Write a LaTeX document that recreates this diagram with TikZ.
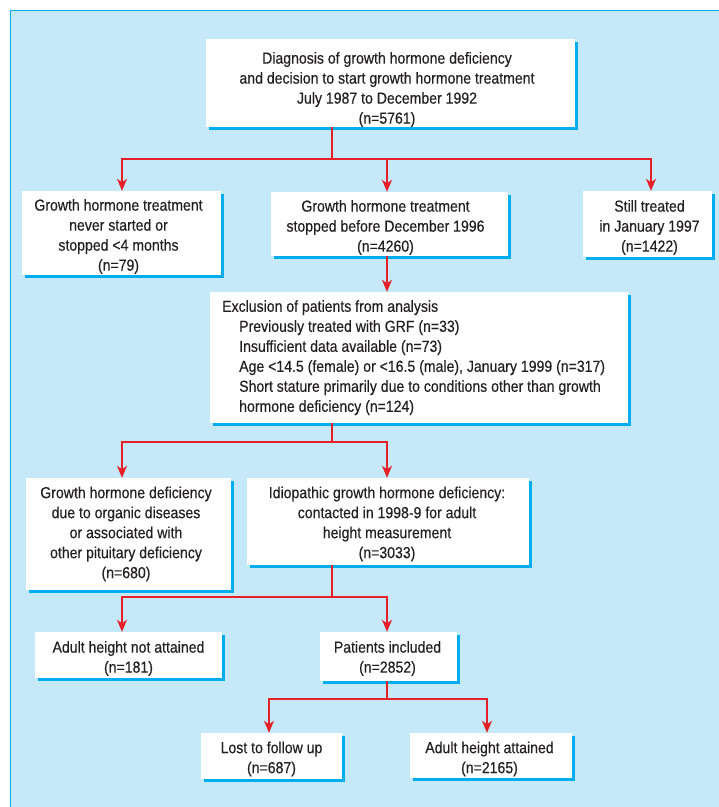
\documentclass[tikz,border=0pt]{standalone}
\usepackage{fontspec}
\setmainfont{Liberation Sans}[FakeStretch=0.88,FakeBold=0.3]
\usetikzlibrary{arrows.meta}
\definecolor{panel}{RGB}{198,233,249}
\definecolor{cyanb}{RGB}{0,174,239}
\definecolor{redl}{RGB}{230,32,40}
\definecolor{txt}{RGB}{35,31,32}
% name, cx, cy, w, h, text dx, text dy, text
\newcommand\flowbox[8]{%
  \fill[cyanb] ({#2-#4/2+3},{#3-#5/2+3}) rectangle ({#2+#4/2+3},{#3+#5/2+3});
  \node[box, minimum width=#4pt, minimum height=#5pt] (#1) at (#2,#3) {};
  \node[boxtext] (#1-t) at ({#2+#6},{#3+#7}) {#8};}
\begin{document}
\begin{tikzpicture}[x=1pt,y=-1pt,
  box/.style={fill=white, inner sep=0pt},
  boxtext/.style={inner sep=0pt, align=center, text=txt, font=\fontsize{16}{20}\selectfont},
  ln/.style={draw=redl, line width=1.8pt},
  arr/.style={ln, -{Stealth[length=12pt,width=10pt,inset=3.5pt]}}]
\useasboundingbox (0,0) rectangle (719,807);
\fill[white] (0,0) rectangle (719,807);
\fill[panel] (10,10) rectangle (719,807);
\draw[cyanb, line width=1.5pt] (10.5,807) -- (10.5,10.5) -- (719,10.5);

\flowbox{top}{390.5}{83}{369}{88}{-3.5}{6.5}{Diagnosis of growth hormone deficiency\\and decision to start growth hormone treatment\\July 1987 to December 1992\\(n=5761)}
\flowbox{a}{121.5}{233}{199}{84}{-3}{3.5}{Growth hormone treatment\\never started or\\stopped <4 months\\(n=79)}
\flowbox{b}{389.5}{224}{237}{64}{-4}{3.5}{Growth hormone treatment\\stopped before December 1996\\(n=4260)}
\flowbox{c}{647.5}{224}{129}{66}{2}{3.5}{Still treated\\in January 1997\\(n=1422)}

\fill[cyanb] (213,295) rectangle (631,426);
\node[box, minimum width=418pt, minimum height=131pt] (excl) at (419,357.5) {};
\node[boxtext, align=left, anchor=north west] (excl-t) at (222,300)
{Exclusion of patients from analysis\\
\hspace*{17pt}Previously treated with GRF (n=33)\\
\hspace*{17pt}Insufficient data available (n=73)\\
\hspace*{17pt}Age <14.5 (female) or <16.5 (male), January 1999 (n=317)\\
\hspace*{17pt}Short stature primarily due to conditions other than growth\\
\hspace*{17pt}hormone deficiency (n=124)};

\flowbox{d}{128.5}{534}{205}{112}{-2.5}{0}{Growth hormone deficiency\\due to organic diseases\\or associated with\\other pituitary deficiency\\(n=680)}
\flowbox{e}{388}{521.5}{282}{87}{-1}{2.5}{Idiopathic growth hormone deficiency:\\contacted in 1998-9 for adult\\height measurement\\(n=3033)}
\flowbox{f}{128.5}{655}{187}{46}{0}{3.5}{Adult height not attained\\(n=181)}
\flowbox{g}{388.5}{656.5}{137}{49}{-1}{2}{Patients included\\(n=2852)}
\flowbox{h}{271.5}{756}{141}{46}{0}{3}{Lost to follow up\\(n=687)}
\flowbox{i}{491}{755.5}{162}{45}{-1.5}{3.5}{Adult height attained\\(n=2165)}

\coordinate (j1) at (332,159);
\draw[ln] (top.south -| j1) -- (j1);
\draw[arr] (j1) -| ([xshift=0.5pt]a.north);
\draw[arr] (j1) -| ([xshift=-2.5pt]b.north);
\draw[arr] (j1) -| ([xshift=3.5pt]c.north);
\draw[arr] ([xshift=-2.5pt]b.south) -- ([xshift=-2.5pt]b.south |- excl.north);

\coordinate (j2) at (332,442);
\draw[ln] (excl.south -| j2) -- (j2);
\draw[arr] (j2) -| ([xshift=-6.5pt]d.north);
\draw[arr] (j2) -| ([xshift=-1pt]e.north);

\coordinate (j3) at (332,597);
\draw[ln] (e.south -| j3) -- (j3);
\draw[arr] (j3) -| ([xshift=-6.5pt]f.north);
\draw[arr] (j3) -| ([xshift=-1.5pt]g.north);

\coordinate (j4) at (387,699);
\draw[ln] (g.south -| j4) -- (j4);
\draw[arr] (j4) -| ([xshift=-2.5pt]h.north);
\draw[arr] (j4) -| ([xshift=-4pt]i.north);
\end{tikzpicture}
\end{document}
